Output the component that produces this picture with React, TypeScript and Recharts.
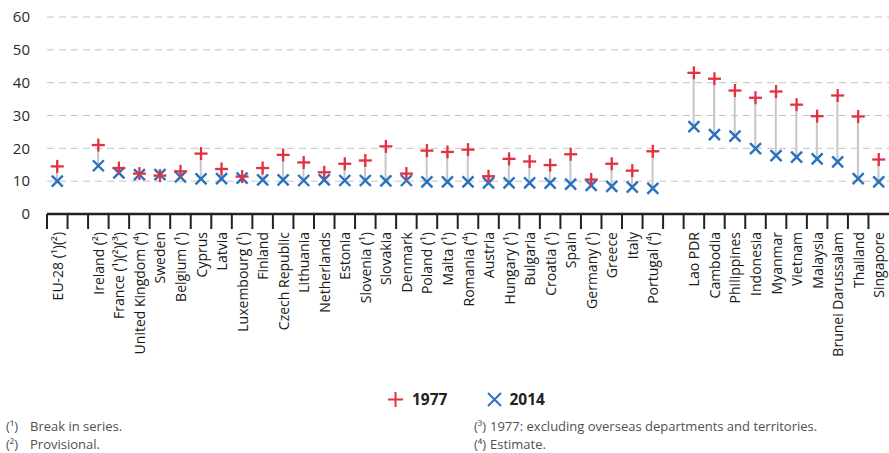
import { ComposedChart, Line, Bar, XAxis, YAxis, CartesianGrid } from 'recharts'

const categories = [
  'EU-28 (¹)(²)', '', 'Ireland (²)', 'France (¹)(²)(³)', 'United Kingdom (⁴)', 'Sweden',
  'Belgium (¹)', 'Cyprus', 'Latvia', 'Luxembourg (¹)', 'Finland', 'Czech Republic',
  'Lithuania', 'Netherlands', 'Estonia', 'Slovenia (¹)', 'Slovakia', 'Denmark',
  'Poland (¹)', 'Malta (¹)', 'Romania (⁴)', 'Austria', 'Hungary (¹)', 'Bulgaria',
  'Croatia (¹)', 'Spain', 'Germany (¹)', 'Greece', 'Italy', 'Portugal (⁴)', ' ',
  'Lao PDR', 'Cambodia', 'Philippines', 'Indonesia', 'Myanmar', 'Vietnam',
  'Malaysia', 'Brunei Darussalam', 'Thailand', 'Singapore',
]

const values1977 = [
  14.5, null, 21.0, 14.0, 12.3, 11.7, 13.0, 18.4, 13.7, 11.4, 14.0, 18.0, 15.7, 12.7,
  15.3, 16.3, 20.6, 12.3, 19.3, 18.9, 19.6, 11.5, 16.8, 16.0, 14.9, 18.2, 10.5, 15.3,
  13.2, 19.1, null, 43.0, 41.2, 37.6, 35.4, 37.3, 33.3, 29.8, 36.1, 29.7, 16.6,
]

const values2014 = [
  10.0, null, 14.7, 12.5, 12.0, 12.0, 11.3, 10.7, 10.8, 10.9, 10.4, 10.4, 10.2, 10.4,
  10.2, 10.2, 10.1, 10.2, 9.8, 9.8, 9.8, 9.5, 9.5, 9.5, 9.4, 9.1, 8.7, 8.4,
  8.2, 7.8, null, 26.6, 24.2, 23.7, 19.9, 17.8, 17.3, 16.8, 15.9, 10.8, 9.8,
]

const yTicks = [0, 10, 20, 30, 40, 50, 60]

const notesLeft = [
  ['(¹)', 'Break in series.'],
  ['(²)', 'Provisional.'],
]
const notesRight = [
  ['(³)', '1977: excluding overseas departments and territories.'],
  ['(⁴)', 'Estimate.'],
]

const RED = '#e0323f'
const BLUE = '#2a72c0'
const FONT = '"Open Sans", "Noto Sans", sans-serif'

const W = 889
const H = 453
const Y_AXIS_W = 47
const BAND = (W - Y_AXIS_W) / categories.length

const data = categories.map((name, i) => {
  const a = values1977[i]
  const b = values2014[i]
  return {
    name,
    y1977: a,
    y2014: b,
    range: a == null || b == null ? null : [Math.min(a, b), Math.max(a, b)],
  }
})

function PlusDot(props: any) {
  const { cx, cy, value } = props
  if (value == null || cy == null) return null
  const s = 6.5
  return (
    <g>
      <line x1={cx - s} x2={cx + s} y1={cy} y2={cy} stroke={RED} strokeWidth={2.3} />
      <line x1={cx} x2={cx} y1={cy - s} y2={cy + s} stroke={RED} strokeWidth={2.3} />
    </g>
  )
}

function CrossDot(props: any) {
  const { cx, cy, value } = props
  if (value == null || cy == null) return null
  const s = 5.5
  return (
    <g>
      <line x1={cx - s} x2={cx + s} y1={cy - s} y2={cy + s} stroke={BLUE} strokeWidth={2.4} />
      <line x1={cx - s} x2={cx + s} y1={cy + s} y2={cy - s} stroke={BLUE} strokeWidth={2.4} />
    </g>
  )
}

function CountryTick(props: any) {
  const { x, y, payload } = props
  const left = x - BAND / 2
  return (
    <g>
      <line x1={left} x2={left} y1={y} y2={y + 15} stroke="#222" strokeWidth={2} />
      <text
        x={x}
        y={y + 18}
        transform={`rotate(-90, ${x}, ${y + 18})`}
        textAnchor="end"
        dominantBaseline="central"
        fontSize={14}
        fontFamily={FONT}
        fill="#1a1a1a"
      >
        {payload.value.trim()}
      </text>
    </g>
  )
}

function Note({ mark, text, left, top, gap }: { mark: string; text: string; left: number; top: number; gap: number }) {
  return (
    <div
      style={{
        position: 'absolute',
        left,
        top,
        fontFamily: FONT,
        fontSize: 13,
        color: '#505050',
        lineHeight: 'normal',
        whiteSpace: 'nowrap',
      }}
    >
      <span style={{ display: 'inline-block', width: gap }}>{mark}</span>
      {text}
    </div>
  )
}

export default function App() {
  return (
    <div
      style={{
        position: 'absolute',
        left: 0,
        top: 0,
        width: W,
        height: H,
        overflow: 'hidden',
        background: '#fff',
      }}
    >
      <ComposedChart
        width={W}
        height={H}
        data={data}
        margin={{ top: 17, right: 0, left: 0, bottom: 73 }}
      >
        <CartesianGrid vertical={false} stroke="#c4c4c4" strokeDasharray="7 5" />
        <XAxis
          dataKey="name"
          interval={0}
          height={166}
          tickSize={0}
          tickMargin={0}
          tickLine={false}
          tick={<CountryTick />}
          axisLine={{ stroke: '#222', strokeWidth: 2.5 }}
        />
        <YAxis
          width={Y_AXIS_W}
          domain={[0, 60]}
          ticks={yTicks}
          interval={0}
          axisLine={false}
          tickLine={false}
          tickSize={0}
          tickMargin={17}
          tick={{ fontSize: 15, fill: '#2a2a2a', fontFamily: FONT }}
        />
        <Bar dataKey="range" barSize={2} fill="#c6c6c6" isAnimationActive={false} />
        <Line
          dataKey="y2014"
          stroke="none"
          dot={<CrossDot />}
          activeDot={false}
          isAnimationActive={false}
        />
        <Line
          dataKey="y1977"
          stroke="none"
          dot={<PlusDot />}
          activeDot={false}
          isAnimationActive={false}
        />
      </ComposedChart>

      <div
        style={{
          position: 'absolute',
          top: 388,
          left: 387,
          display: 'flex',
          alignItems: 'center',
          fontFamily: FONT,
          fontWeight: 700,
          fontSize: 15.5,
          color: '#222',
        }}
      >
        <svg width={17} height={17}>
          <line x1={1} x2={16} y1={8.5} y2={8.5} stroke={RED} strokeWidth={2} />
          <line x1={8.5} x2={8.5} y1={1} y2={16} stroke={RED} strokeWidth={2} />
        </svg>
        <span style={{ marginLeft: 8, marginRight: 39 }}>1977</span>
        <svg width={17} height={17}>
          <line x1={2} x2={15} y1={2} y2={15} stroke={BLUE} strokeWidth={2} />
          <line x1={2} x2={15} y1={15} y2={2} stroke={BLUE} strokeWidth={2} />
        </svg>
        <span style={{ marginLeft: 6 }}>2014</span>
      </div>

      {notesLeft.map(([m, t], i) => (
        <Note key={m} mark={m} text={t} left={6} top={417 + i * 18} gap={24} />
      ))}
      {notesRight.map(([m, t], i) => (
        <Note key={m} mark={m} text={t} left={474} top={417 + i * 18} gap={16} />
      ))}
    </div>
  )
}
